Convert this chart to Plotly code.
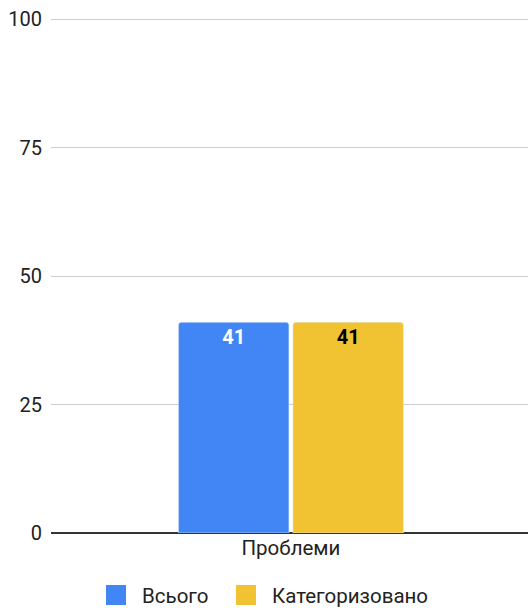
import plotly.graph_objects as go

categories = ["Проблеми"]
series_names = ["Всього", "Категоризовано"]
total_values = [41]
categorized_values = [41]
colors = ["#4285F4", "#F1C232"]
text_colors = ["#FFFFFF", "#000000"]
y_ticks = [0, 25, 50, 75, 100]
legend_ids = ["legend", "legend2"]
legend_x = [0.1705, 0.4167]

FONT = "Roboto, Arial, sans-serif"

fig = go.Figure()
for name, vals, col, tcol, lg in zip(series_names, [total_values, categorized_values], colors, text_colors, legend_ids):
    fig.add_trace(go.Bar(
        x=categories, y=vals, name=name, marker_color=col,
        text=[str(v) for v in vals], textposition="inside", insidetextanchor="end",
        textfont=dict(family=FONT, size=20, color=tcol, weight="bold"),
        showlegend=False, hoverinfo="skip",
    ))
    fig.add_trace(go.Scatter(
        x=[None], y=[None], mode="markers", name=name, legend=lg,
        marker=dict(symbol="square", size=16, color=col, line=dict(color=col, width=4)),
        showlegend=True,
    ))

legend_common = dict(orientation="h", xref="container", xanchor="left",
                     yref="container", y=0.021, yanchor="middle",
                     itemwidth=42, bgcolor="rgba(0,0,0,0)",
                     font=dict(family=FONT, size=20.5, color="#222222"), itemsizing="trace")

fig.update_layout(
    width=528, height=608,
    margin=dict(l=51, r=0, t=18, b=75),
    paper_bgcolor="white", plot_bgcolor="white",
    font=dict(family=FONT, size=20, color="#222222"),
    barmode="group", bargap=0.52, bargroupgap=0.035, barcornerradius=3,
    uniformtext=dict(mode=False),
    legend=dict(x=legend_x[0], **legend_common),
    legend2=dict(x=legend_x[1], **legend_common),
    yaxis=dict(range=[0, 100.2], tickvals=y_ticks, showgrid=True, gridcolor="#CCCCCC", gridwidth=1,
               zeroline=True, zerolinecolor="#333333", zerolinewidth=1.5,
               ticklabelstandoff=8, tickfont=dict(size=20, color="#222222"), fixedrange=True),
    xaxis=dict(showgrid=False, range=[-0.503, 0.497],
               tickfont=dict(size=20.5, color="#222222"), fixedrange=True),
)

fig.write_html("out.html", config={"displayModeBar": False},
               post_script="document.body.style.margin='0';")
